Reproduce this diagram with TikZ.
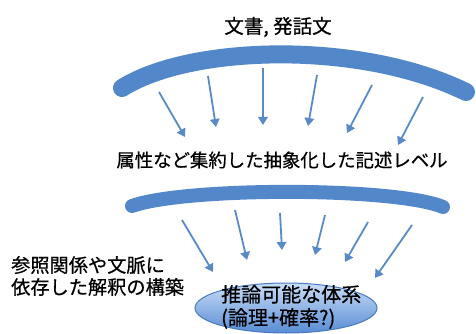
\documentclass[tikz,border=0pt]{standalone}
\usepackage{fontspec}
\setmainfont{Noto Sans CJK JP}[FakeBold=0.6]
\usetikzlibrary{arrows.meta,shapes.geometric}
\definecolor{arcblue}{RGB}{82,136,202}
\definecolor{arrblue}{RGB}{90,138,198}
\definecolor{elltop}{RGB}{200,222,246}
\definecolor{ellbot}{RGB}{88,140,212}
\definecolor{elledge}{RGB}{74,122,190}
\tikzset{
  band/.style={draw=arcblue,line cap=round},
  flow/.style={draw=arrblue,line width=1.8pt,-{Triangle[length=8pt,width=9.5pt]}},
  lbl/.style={inner sep=0pt,text=black},
}
\begin{document}
\begin{tikzpicture}[x=1pt,y=-1pt]
\path[use as bounding box] (0,0) rectangle (476,334);
% texts
\node[lbl,font=\fontsize{19.5}{21}\selectfont] (doc) at (278,27) {文書, 発話文};
\node[lbl,font=\fontsize{18.4}{20}\selectfont] (mid) at (282,160) {属性など集約した抽象化した記述レベル};
\node[lbl,font=\fontsize{19.2}{22}\selectfont,align=left,anchor=west] (left) at (11,276) {参照関係や文脈に\\依存した解釈の構築};
% bands
\draw[band,line width=18pt] (122,88) .. controls (190,45) and (360,40) .. (466,92);
\draw[band,line width=14pt] (132,206) .. controls (185,187) and (395,187) .. (443,207);
% ellipse
\node[ellipse,draw=elledge,line width=1pt,top color=elltop,bottom color=ellbot,
      minimum width=182pt,minimum height=50pt,inner sep=0pt] (sys) at (286,308) {};
\node[lbl,font=\fontsize{20}{23}\selectfont,align=left,anchor=west] (systxt) at (221,307) {推論可能な体系\\(論理+確率?)};
% top arrows
\foreach \i/\sx/\sy/\ex/\ey in {1/159/92/185/137,2/208/76/216/127,3/263/68/263/125,4/317/75/308/126,5/372/85/347/133,6/423/97/398/145}{
  \coordinate (ts\i) at (\sx,\sy);
  \coordinate (te\i) at (\ex,\ey);
  \draw[flow] (ts\i) -- (te\i);
}
% bottom arrows
\foreach \i/\sx/\sy/\ex/\ey in {1/182/220/213/272,2/235/210/247/260,3/280/213/282/250,4/325/215/315/255,5/368/222/345/262,6/412/225/375/278}{
  \coordinate (bs\i) at (\sx,\sy);
  \coordinate (be\i) at (\ex,\ey);
  \draw[flow] (bs\i) -- (be\i);
}
\end{tikzpicture}
\end{document}
